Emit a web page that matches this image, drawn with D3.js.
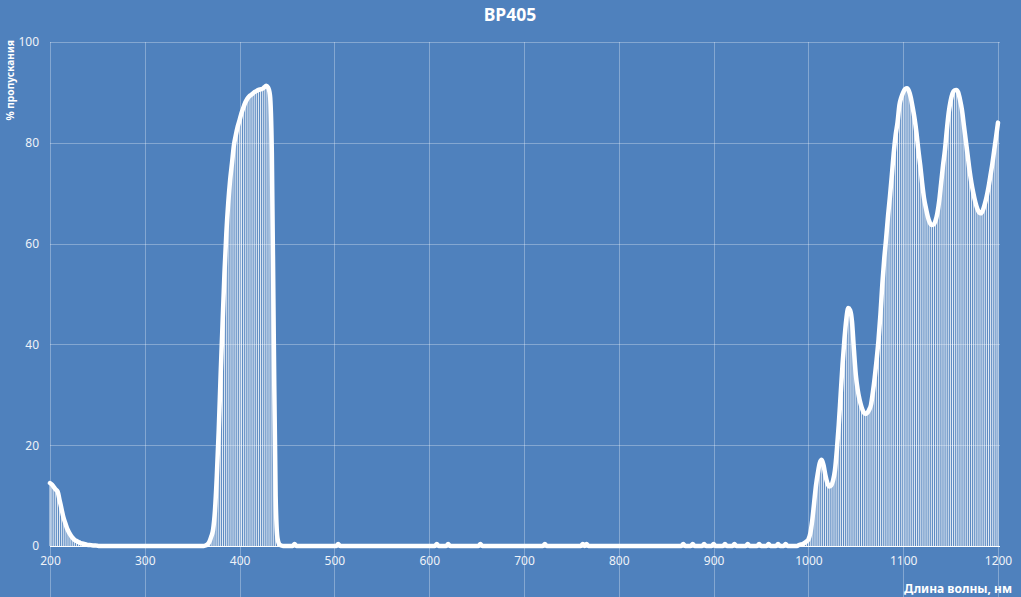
<!DOCTYPE html>
<html><head><meta charset="utf-8">
<script src="https://cdn.jsdelivr.net/npm/d3@7"></script>
<style>
html,body{margin:0;padding:0;background:#4f81bd;}
svg{display:block;}
</style></head>
<body>
<svg id="chart" width="1021" height="597"></svg>
<script>
// ---- data ----
const title = "BP405";
const xLabel = "Длина волны, нм";
const yLabel = "% пропускания";
const xTicks = [200, 300, 400, 500, 600, 700, 800, 900, 1000, 1100, 1200];
const yTicks = [0, 20, 40, 60, 80, 100];
const wlStart = 200, wlStep = 2;
// transmission (%) every 2 nm, 200 .. 1200 nm (rows of 10 values)
const transmission = [
 12.5,12.2,11.7,11.2,10.8,9.2,7.5,5.8,4.6,3.5,      // 200
 2.7,2.1,1.6,1.2,1.0,0.8,0.6,0.5,0.4,0.3,           // 220
 0.2,0.2,0.15,0.1,0.1,0.05,0,0,0,0,                 // 240
 0,0,0,0,0,0,0,0,0,0,                               // 260
 0,0,0,0,0,0,0,0,0,0,                               // 280
 0,0,0,0,0,0,0,0,0,0,                               // 300
 0,0,0,0,0,0,0,0,0,0,                               // 320
 0,0,0,0,0,0,0,0,0,0,                               // 340
 0,0,0.1,0.3,0.8,1.8,3.2,7,14,23,                   // 360
 34,44,54,62,68,72.6,76,79.5,81.5,83.2,             // 380
 84.5,85.9,87,88,88.7,89.2,89.5,89.8,90.1,90.3,     // 400
 90.5,90.6,90.7,91,91.3,91,89.5,78,42,10,           // 420
 1.5,0.3,0.1,0,0,0,0,0,0,0.4,                       // 440
 0,0,0,0,0,0,0,0,0,0,                               // 460
 0,0,0,0,0,0,0,0,0,0,                               // 480
 0,0,0.4,0,0,0,0,0,0,0,                             // 500
 0,0,0,0,0,0,0,0,0,0,                               // 520
 0,0,0,0,0,0,0,0,0,0,                               // 540
 0,0,0,0,0,0,0,0,0,0,                               // 560
 0,0,0,0,0,0,0,0,0,0,                               // 580
 0,0,0,0,0.4,0,0,0,0,0,                             // 600
 0.4,0,0,0,0,0,0,0,0,0,                             // 620
 0,0,0,0,0,0,0,0.4,0,0,                             // 640
 0,0,0,0,0,0,0,0,0,0,                               // 660
 0,0,0,0,0,0,0,0,0,0,                               // 680
 0,0,0,0,0,0,0,0,0,0,                               // 700
 0,0.4,0,0,0,0,0,0,0,0,                             // 720
 0,0,0,0,0,0,0,0,0,0,                               // 740
 0,0.4,0,0.4,0,0,0,0,0,0,                           // 760
 0,0,0,0,0,0,0,0,0,0,                               // 780
 0,0,0,0,0,0,0,0,0,0,                               // 800
 0,0,0,0,0,0,0,0,0,0,                               // 820
 0,0,0,0,0,0,0,0,0,0,                               // 840
 0,0,0,0,0.4,0,0,0,0,0.4,                           // 860
 0,0,0,0,0,0.4,0,0,0,0,                             // 880
 0.4,0,0,0,0,0,0.4,0,0,0,                           // 900
 0,0.4,0,0,0,0,0,0,0.4,0,                           // 920
 0,0,0,0,0.4,0,0,0,0,0.4,                           // 940
 0,0,0,0,0.4,0,0,0,0.4,0,                           // 960
 0,0,0,0,0,0.2,0.3,0.4,0.6,0.9,                     // 980
 1.3,2.5,5,8.5,12,14.5,16.5,17.1,16,14,             // 1000
 12.5,11.8,12,13,15,19,24,30,36,41,                 // 1020
 45,47.2,46.8,44.5,39,34,31,29,27.6,26.6,           // 1040
 26.2,26.4,27,28,30.5,33.5,37,41,46,52,             // 1060
 57,61,65.5,69.3,73.5,78,81.5,84,87.5,89,           // 1080
 90,90.7,90.8,90.3,89,87,84.8,82,78.5,75.5,         // 1100
 72,69,67,65.3,64.2,63.7,63.8,64.5,66,68.5,         // 1120
 72,75.5,78.5,82.5,86,88.3,89.8,90.4,90.5,90,       // 1140
 88.5,86.5,83.5,80.5,77.5,74.5,72,70,68.3,67,       // 1160
 66.2,66,66.6,67.8,69.3,71.2,73.5,75.8,78.5,81.2,   // 1180
 84                                                 // 1200
];

// ---- drawing ----
const W = 1021, H = 597;
const m = {left: 50, right: 23, top: 42, bottom: 51};
const svg = d3.select("#chart");
const data = transmission.map((v, i) => ({wl: wlStart + i * wlStep, t: v}));

const x = d3.scaleLinear().domain([200, 1200]).range([m.left, W - m.right]);
const y = d3.scaleLinear().domain([0, 100]).range([H - m.bottom, m.top]);

svg.append("rect").attr("width", W).attr("height", H).attr("fill", "#4f81bd");

const grid = "rgba(255,255,255,0.3)";
// vertical gridlines (full height down to bottom)
svg.append("g").selectAll("line").data(xTicks).join("line")
  .attr("x1", d => Math.round(x(d)) + 0.5).attr("x2", d => Math.round(x(d)) + 0.5)
  .attr("y1", y(100)).attr("y2", H)
  .attr("stroke", grid).attr("stroke-width", 1);
// horizontal gridlines
svg.append("g").selectAll("line").data(yTicks.filter(d => d > 0)).join("line")
  .attr("x1", x(200)).attr("x2", x(1200) + 2)
  .attr("y1", d => Math.round(y(d)) + 0.5).attr("y2", d => Math.round(y(d)) + 0.5)
  .attr("stroke", grid).attr("stroke-width", 1);

// drop lines
svg.append("g").selectAll("line").data(data).join("line")
  .attr("x1", d => x(d.wl)).attr("x2", d => x(d.wl))
  .attr("y1", d => y(d.t)).attr("y2", y(0))
  .attr("stroke", "#ffffff").attr("stroke-opacity", 0.85).attr("stroke-width", 1);

// x axis line
svg.append("line")
  .attr("x1", x(200)).attr("x2", x(1200) + 2)
  .attr("y1", Math.round(y(0)) + 0.5).attr("y2", Math.round(y(0)) + 0.5)
  .attr("stroke", "#ffffff").attr("stroke-width", 1.2);

// main line
const line = d3.line().x(d => x(d.wl)).y(d => y(d.t)).curve(d3.curveMonotoneX);
svg.append("path").datum(data).attr("d", line)
  .attr("fill", "none").attr("stroke", "#ffffff").attr("stroke-width", 4.5)
  .attr("stroke-linejoin", "round").attr("stroke-linecap", "round");

// axes (labels only)
const font = "'Noto Sans', 'Open Sans', sans-serif";
const xAxis = svg.append("g").attr("transform", `translate(0,${y(0)})`)
  .call(d3.axisBottom(x).tickValues(xTicks).tickSize(0).tickPadding(10).tickFormat(d3.format("d")));
xAxis.select(".domain").remove();
xAxis.selectAll("text").attr("fill", "#eef2f8").attr("font-size", 12).attr("font-family", font);

const yAxis = svg.append("g").attr("transform", `translate(${x(200)},0)`)
  .call(d3.axisLeft(y).tickValues(yTicks).tickSize(0).tickPadding(11).tickFormat(d3.format("d")));
yAxis.select(".domain").remove();
yAxis.selectAll("text").attr("fill", "#eef2f8").attr("font-size", 12).attr("font-family", font);

// title
svg.append("text").attr("x", 510).attr("y", 21).attr("text-anchor", "middle")
  .attr("fill", "#ffffff").attr("font-weight", "bold").attr("font-size", 17.5)
  .attr("font-family", font).text(title);

// y label
svg.append("text").attr("transform", "translate(14,40) rotate(-90)")
  .attr("text-anchor", "end").attr("fill", "#ffffff").attr("font-weight", "bold")
  .attr("font-size", 10.2).attr("font-family", font).text(yLabel);

// x label
svg.append("text").attr("x", 1012).attr("y", 593).attr("text-anchor", "end")
  .attr("fill", "#ffffff").attr("font-weight", "bold").attr("font-size", 12)
  .attr("font-family", font).text(xLabel);
</script>
</body></html>
